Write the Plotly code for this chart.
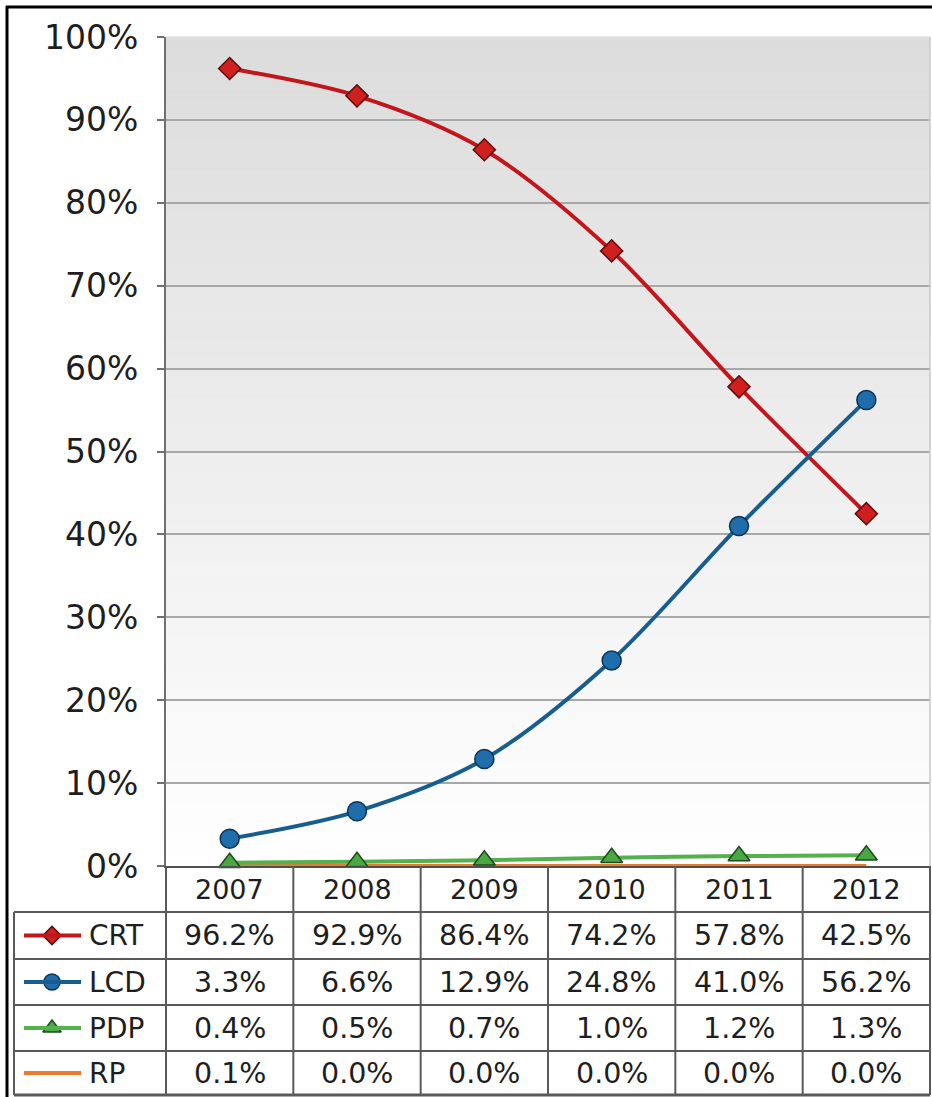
import plotly.graph_objects as go

# Display technology market share by year
years = ["2007", "2008", "2009", "2010", "2011", "2012"]
crt = [96.2, 92.9, 86.4, 74.2, 57.8, 42.5]
lcd = [3.3, 6.6, 12.9, 24.8, 41.0, 56.2]
pdp = [0.4, 0.5, 0.7, 1.0, 1.2, 1.3]
rp = [0.1, 0.0, 0.0, 0.0, 0.0, 0.0]
y_ticks = list(range(0, 101, 10))

W, H = 932, 1097
FONT = "DejaVu Sans"
TXT = "#1e1e1e"

# plot area in pixels
PX0, PX1 = 166, 930
PY_TOP, PY_BOT = 37, 866


def px(x):
    return x / W


def py(y):
    return 1 - y / H


series = [
    dict(name="CRT", values=crt, line="#c3161c", fill="#d01f1f", edge="#5e0b0b", symbol="diamond", size=17),
    dict(name="LCD", values=lcd, line="#175d8f", fill="#1f6eab", edge="#0c3556", symbol="circle", size=19),
    dict(name="PDP", values=pdp, line="#55b04e", fill="#4aa843", edge="#1f4a1c", symbol="triangle-up", size=19),
    dict(name="RP", values=rp, line="#ec7a2c", fill=None, edge=None, symbol=None, size=0),
]

fig = go.Figure()
xs = list(range(len(years)))

# draw RP first so the other lines sit on top of it near the baseline
for s in [series[3], series[0], series[1], series[2]]:
    kw = dict(mode="lines")
    if s["symbol"]:
        kw = dict(mode="lines+markers",
                  marker=dict(symbol=s["symbol"], size=s["size"], color=s["fill"],
                              line=dict(color=s["edge"], width=1.5)))
    fig.add_trace(go.Scatter(x=xs, y=s["values"], name=s["name"],
                             line=dict(color=s["line"], width=4, shape="spline", smoothing=0.9),
                             cliponaxis=False, hoverinfo="skip", **kw))

shapes = []

# vertical gradient behind the plot area (light grey at top, white at bottom)
n_bands = 80
for i in range(n_bands):
    t0 = i / n_bands
    t1 = (i + 1) / n_bands
    t = (t0 + t1) / 2
    c = int(round(255 - 35 * t))
    shapes.append(dict(type="rect", xref="paper", yref="paper", layer="below",
                       x0=px(PX0), x1=px(PX1),
                       y0=py(PY_BOT - t0 * (PY_BOT - PY_TOP)),
                       y1=py(PY_BOT - t1 * (PY_BOT - PY_TOP)) + 0.0005,
                       fillcolor=f"rgb({c},{c},{c})", line=dict(width=0)))

# right edge of the plot area
shapes.append(dict(type="line", xref="paper", yref="paper", layer="above",
                   x0=px(PX1), x1=px(PX1), y0=py(PY_TOP), y1=py(PY_BOT),
                   line=dict(color="#c8c8c8", width=1.5)))

# data table grid
GRID = "#5a5a5a"
TX0 = 14
row_edges = [866, 912, 959, 1005, 1051, 1095]
col_w = (PX1 - PX0) / len(years)
col_edges = [PX0 + i * col_w for i in range(len(years) + 1)]


def hline(y, x0, x1, w=2):
    shapes.append(dict(type="line", xref="paper", yref="paper", layer="above",
                       x0=px(x0), x1=px(x1), y0=py(y), y1=py(y),
                       line=dict(color=GRID, width=w)))


def vline(x, y0, y1, w=2):
    shapes.append(dict(type="line", xref="paper", yref="paper", layer="above",
                       x0=px(x), x1=px(x), y0=py(y0), y1=py(y1),
                       line=dict(color=GRID, width=w)))


for k, y in enumerate(row_edges[1:]):
    hline(y, TX0, PX1, 3 if k == len(row_edges) - 2 else 2)
for x in col_edges[1:]:
    vline(x, row_edges[0], row_edges[-1])
vline(PX0, row_edges[0], row_edges[-1])
vline(TX0, row_edges[1], row_edges[-1])

# outer frame (top and left edges)
shapes.append(dict(type="line", xref="paper", yref="paper", layer="above",
                   x0=px(6), x1=1, y0=py(7), y1=py(7), line=dict(color="black", width=3)))
shapes.append(dict(type="line", xref="paper", yref="paper", layer="above",
                   x0=px(7), x1=px(7), y0=py(6), y1=0, line=dict(color="black", width=3)))

annotations = []
# header row: years
for i, yr in enumerate(years):
    annotations.append(dict(x=i, xref="x", y=py((row_edges[0] + row_edges[1]) / 2), yref="paper",
                            text=yr, showarrow=False, font=dict(family=FONT, size=27, color=TXT),
                            xanchor="center", yanchor="middle"))

# data rows: legend key + values
for r, s in enumerate(series):
    yc = (row_edges[r + 1] + row_edges[r + 2]) / 2
    for i, v in enumerate(s["values"]):
        annotations.append(dict(x=i, xref="x", y=py(yc), yref="paper",
                                text=f"{v:.1f}%", showarrow=False,
                                font=dict(family=FONT, size=28.5, color=TXT),
                                xanchor="center", yanchor="middle"))
    annotations.append(dict(x=px(87), xref="paper", y=py(yc), yref="paper",
                            text=s["name"], showarrow=False,
                            font=dict(family=FONT, size=28, color=TXT),
                            xanchor="left", yanchor="middle"))
    shapes.append(dict(type="line", xref="paper", yref="paper", layer="above",
                       x0=px(24), x1=px(81), y0=py(yc), y1=py(yc),
                       line=dict(color=s["line"], width=4)))
    if s["symbol"]:
        fig.add_trace(go.Scatter(x=[52], y=[yc], xaxis="x2", yaxis="y2", mode="markers",
                                 marker=dict(symbol=s["symbol"], size=s["size"] - 3, color=s["fill"],
                                             line=dict(color=s["edge"], width=1.5)),
                                 showlegend=False, hoverinfo="skip", cliponaxis=False))

fig.update_layout(
    width=W, height=H,
    autosize=False,
    margin=dict(l=0, r=0, t=0, b=0, pad=0, autoexpand=False),
    paper_bgcolor="white",
    plot_bgcolor="rgba(0,0,0,0)",
    showlegend=False,
    shapes=shapes,
    annotations=annotations,
    xaxis=dict(domain=[px(PX0), px(PX1)], range=[-0.5, len(years) - 0.5], automargin=False,
               showticklabels=False, showgrid=False, zeroline=False,
               showline=True, linecolor="#505050", linewidth=2, fixedrange=True),
    yaxis=dict(domain=[py(PY_BOT), py(PY_TOP)], range=[0, 100], automargin=False,
               tickvals=y_ticks, ticktext=[f"{v}%" for v in y_ticks],
               tickfont=dict(family=FONT, size=33, color=TXT),
               ticks="outside", ticklen=7, tickcolor="#707070", tickwidth=2,
               ticklabelstandoff=12,
               showgrid=True, gridcolor="#a8a8a8", gridwidth=1.5,
               zeroline=False, showline=True, linecolor="#707070", linewidth=2,
               fixedrange=True),
    xaxis2=dict(domain=[0, 1], range=[0, W], visible=False, fixedrange=True, automargin=False),
    yaxis2=dict(domain=[0, 1], range=[H, 0], visible=False, fixedrange=True, anchor="x2",
                automargin=False),
)

fig.write_html("out.html")
